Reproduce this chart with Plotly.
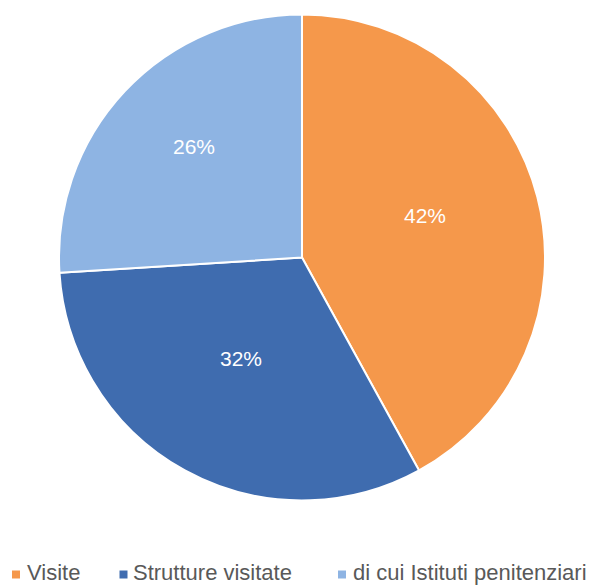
import math
import plotly.graph_objects as go

categories = ["Visite", "Strutture visitate", "di cui Istituti penitenziari"]
values = [42, 32, 26]
colors = ["#F5984B", "#3F6CAF", "#8EB4E3"]

W, H = 603, 587
cx, cy, r = 302, 257.5, 243

# label placement (fraction of radius per slice, upward nudge in px)
label_radius_frac = [0.523, 0.523, 0.609]
label_lift = 10
label_font = dict(family="Liberation Sans, Arial, sans-serif", size=21, color="white")

# legend layout (px): square centre x, text left x, row centre y
legend_square_x = [16, 123.5, 342]
legend_text_x = [26, 132, 352]
legend_text_y = 572.5
legend_square_y = 574.5
legend_square = 8
legend_font = dict(family="Liberation Sans, Arial, sans-serif", size=22, color="#595959")

fig = go.Figure(go.Pie(
    labels=categories,
    values=values,
    sort=False,
    direction="clockwise",
    rotation=0,
    marker=dict(colors=colors, line=dict(color="white", width=2)),
    textinfo="none",
    domain=dict(x=[(cx - r) / W, (cx + r) / W], y=[1 - (cy + r) / H, 1 - (cy - r) / H]),
    hoverinfo="label+percent",
    showlegend=False,
))

annotations = []
shapes = []

# percentage labels at each slice's mid-angle
total = sum(values)
start = 0.0
for v, frac in zip(values, label_radius_frac):
    mid = (start + v / 2) / total * 2 * math.pi
    start += v
    px = cx + frac * r * math.sin(mid)
    py = cy - frac * r * math.cos(mid) - label_lift
    annotations.append(dict(
        x=px / W, y=1 - py / H, xref="paper", yref="paper",
        text=f"{round(100 * v / total)}%", showarrow=False,
        font=label_font, xanchor="center", yanchor="middle",
    ))

# legend row along the bottom
for name, col, sx, tx in zip(categories, colors, legend_square_x, legend_text_x):
    h = legend_square / 2
    shapes.append(dict(
        type="rect", xref="paper", yref="paper",
        x0=(sx - h) / W, x1=(sx + h) / W,
        y0=1 - (legend_square_y + h) / H, y1=1 - (legend_square_y - h) / H,
        fillcolor=col, line=dict(width=0),
    ))
    annotations.append(dict(
        x=tx / W, y=1 - legend_text_y / H, xref="paper", yref="paper",
        text=name, showarrow=False, font=legend_font,
        xanchor="left", yanchor="middle", borderpad=0,
    ))

fig.update_layout(
    width=W, height=H,
    margin=dict(l=0, r=0, t=0, b=0),
    paper_bgcolor="white",
    annotations=annotations,
    shapes=shapes,
)

fig.write_html("out.html")
